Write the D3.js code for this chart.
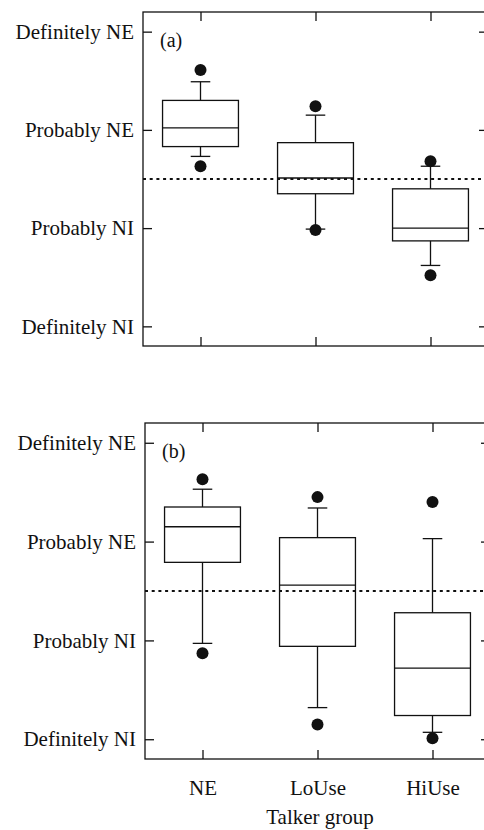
<!DOCTYPE html>
<html>
<head>
<meta charset="utf-8">
<script src="https://cdn.jsdelivr.net/npm/d3@7"></script>
<style>
  body { margin: 0; background: #fff; }
  svg { display: block; }
  text { font-family: "Liberation Serif", "Times New Roman", serif; fill: #111; }
</style>
</head>
<body>
<div id="chart"></div>
<script>
// Talker groups along x
const groups = ['NE', 'LoUse', 'HiUse'];

// Rating scale (1 = Definitely NI ... 4 = Definitely NE)
const levels = [1, 2, 3, 4];
const levelLabels = ['Definitely NI', 'Probably NI', 'Probably NE', 'Definitely NE'];
const boundary = 2.5;

// Panel (a) box statistics
const boxesA = [
    { group: 'NE',    lo: 2.73, q1: 2.83, med: 3.02, q3: 3.30, hi: 3.49, outliers: [2.63, 3.61] },
    { group: 'LoUse', lo: 1.99, q1: 2.35, med: 2.51, q3: 2.87, hi: 3.15, outliers: [1.98, 3.24] },
    { group: 'HiUse', lo: 1.62, q1: 1.87, med: 2.00, q3: 2.40, hi: 2.63, outliers: [1.52, 2.68] }
];

// Panel (b) box statistics
const boxesB = [
    { group: 'NE',    lo: 1.97, q1: 2.79, med: 3.15, q3: 3.35, hi: 3.53, outliers: [1.87, 3.63] },
    { group: 'LoUse', lo: 1.32, q1: 1.94, med: 2.56, q3: 3.04, hi: 3.34, outliers: [1.15, 3.45] },
    { group: 'HiUse', lo: 1.07, q1: 1.24, med: 1.72, q3: 2.28, hi: 3.03, outliers: [1.01, 3.40] }
];

const W = 484, H = 830;
const svg = d3.select('#chart').append('svg')
    .attr('width', W)
    .attr('height', H);

function drawPanel(boxes, tag, box, showX) {
    const x = d3.scalePoint()
        .domain(groups)
        .range([box.left, box.right])
        .padding(0.5);
    const y = d3.scaleLinear()
        .domain([0.8, 4.2])
        .range([box.bottom, box.top]);

    const g = svg.append('g');
    const bw = x.step() * 0.66;
    const cw = x.step() * 0.17;

    // frame
    g.append('rect')
        .attr('x', box.left)
        .attr('y', box.top)
        .attr('width', box.right - box.left)
        .attr('height', box.bottom - box.top)
        .attr('fill', 'none')
        .attr('stroke', '#111')
        .attr('stroke-width', 1.3);

    // left axis with labels, inward ticks
    const left = g.append('g')
        .attr('transform', `translate(${box.left},0)`)
        .call(d3.axisLeft(y).tickValues(levels).tickSize(-9).tickPadding(9)
            .tickFormat(d => levelLabels[levels.indexOf(d)]));
    left.select('.domain').remove();
    left.selectAll('line').attr('stroke', '#111').attr('stroke-width', 1.3);
    left.selectAll('text')
        .attr('font-size', '21px')
        .attr('font-family', '"Liberation Serif", serif')
        .attr('fill', '#111');

    // right axis, ticks only
    const right = g.append('g')
        .attr('transform', `translate(${box.right},0)`)
        .call(d3.axisRight(y).tickValues(levels).tickSize(-9).tickFormat(''));
    right.select('.domain').remove();
    right.selectAll('line').attr('stroke', '#111').attr('stroke-width', 1.3);

    // top axis, ticks only
    const top = g.append('g')
        .attr('transform', `translate(0,${box.top})`)
        .call(d3.axisTop(x).tickSize(-9).tickFormat(''));
    top.select('.domain').remove();
    top.selectAll('line').attr('stroke', '#111').attr('stroke-width', 1.3);

    // bottom axis
    const bottom = g.append('g')
        .attr('transform', `translate(0,${box.bottom})`)
        .call(d3.axisBottom(x).tickSize(-9).tickPadding(21)
            .tickFormat(showX ? (d => d) : ''));
    bottom.select('.domain').remove();
    bottom.selectAll('line').attr('stroke', '#111').attr('stroke-width', 1.3);
    bottom.selectAll('text')
        .attr('font-size', '21px')
        .attr('font-family', '"Liberation Serif", serif')
        .attr('fill', '#111');

    // dotted boundary line
    g.append('line')
        .attr('x1', box.left)
        .attr('x2', box.right)
        .attr('y1', y(boundary))
        .attr('y2', y(boundary))
        .attr('stroke', '#111')
        .attr('stroke-width', 2)
        .attr('stroke-dasharray', '3,3.7');

    const b = g.selectAll('.box').data(boxes).enter().append('g');

    // whiskers
    b.append('line')
        .attr('x1', d => x(d.group)).attr('x2', d => x(d.group))
        .attr('y1', d => y(d.q3)).attr('y2', d => y(d.hi))
        .attr('stroke', '#111').attr('stroke-width', 1.3);
    b.append('line')
        .attr('x1', d => x(d.group)).attr('x2', d => x(d.group))
        .attr('y1', d => y(d.q1)).attr('y2', d => y(d.lo))
        .attr('stroke', '#111').attr('stroke-width', 1.3);
    // caps
    ['hi', 'lo'].forEach(k => {
        b.append('line')
            .attr('x1', d => x(d.group) - cw / 2).attr('x2', d => x(d.group) + cw / 2)
            .attr('y1', d => y(d[k])).attr('y2', d => y(d[k]))
            .attr('stroke', '#111').attr('stroke-width', 1.3);
    });
    // box
    b.append('rect')
        .attr('x', d => x(d.group) - bw / 2)
        .attr('width', bw)
        .attr('y', d => y(d.q3))
        .attr('height', d => y(d.q1) - y(d.q3))
        .attr('fill', 'none')
        .attr('stroke', '#111')
        .attr('stroke-width', 1.3);
    // median
    b.append('line')
        .attr('x1', d => x(d.group) - bw / 2).attr('x2', d => x(d.group) + bw / 2)
        .attr('y1', d => y(d.med)).attr('y2', d => y(d.med))
        .attr('stroke', '#111').attr('stroke-width', 1.3);
    // outliers
    b.selectAll('circle')
        .data(d => d.outliers.map(v => ({ group: d.group, v })))
        .enter().append('circle')
        .attr('cx', d => x(d.group))
        .attr('cy', d => y(d.v))
        .attr('r', 6)
        .attr('fill', '#111');

    // panel tag
    g.append('text')
        .attr('x', box.left + 17)
        .attr('y', box.top + 35)
        .attr('font-size', '20px')
        .text(tag);
}

drawPanel(boxesA, '(a)', { left: 143, right: 488, top: 12, bottom: 346 }, false);
drawPanel(boxesB, '(b)', { left: 145, right: 490, top: 423, bottom: 759 }, true);

// x axis title
svg.append('text')
    .attr('x', 320)
    .attr('y', 824)
    .attr('text-anchor', 'middle')
    .attr('font-size', '21px')
    .text('Talker group');
</script>
</body>
</html>
